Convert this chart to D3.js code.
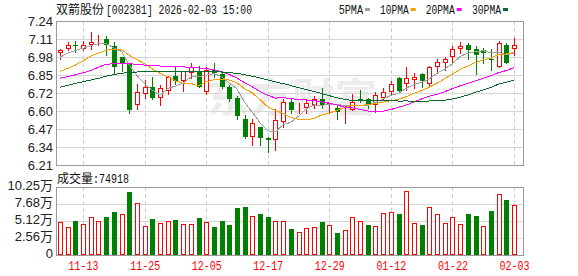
<!DOCTYPE html>
<html>
<head>
<meta charset="utf-8">
<script src="https://cdn.jsdelivr.net/npm/d3@7"></script>
<style>
  body { margin: 0; background: #fff; }
  svg { display: block; }
</style>
</head>
<body>
<div id="chart"></div>
<script>
// trading days shown (60 sessions)
const dates = ["11-10","11-11","11-12","11-13","11-14","11-17","11-18","11-19","11-20","11-21",
  "11-24","11-25","11-26","11-27","11-28","12-01","12-02","12-03","12-04","12-05",
  "12-08","12-09","12-10","12-11","12-12","12-15","12-16","12-17","12-18","12-19",
  "12-22","12-23","12-24","12-25","12-26","12-29","12-30","12-31","01-05","01-06",
  "01-07","01-08","01-09","01-12","01-13","01-14","01-15","01-16","01-19","01-20",
  "01-21","01-22","01-23","01-26","01-27","01-28","01-29","01-30","02-02","02-03"];

const opens = [7.01,7.04,7.07,7.04,7.07,7.09,7.11,7.06,6.98,6.93,
  6.64,6.72,6.77,6.69,6.74,6.85,6.81,6.87,6.88,6.73,
  6.89,6.86,6.77,6.69,6.54,6.41,6.48,6.40,6.39,6.52,
  6.66,6.60,6.62,6.64,6.68,6.64,6.62,6.61,6.60,6.68,
  6.68,6.64,6.69,6.73,6.83,6.79,6.82,6.86,6.79,6.91,
  6.94,6.98,7.04,7.07,7.04,7.03,6.97,6.91,7.07,7.04];
const highs = [7.04,7.09,7.10,7.10,7.16,7.14,7.13,7.09,6.98,6.93,
  6.79,6.82,6.84,6.78,6.85,6.91,6.88,6.94,6.92,6.91,
  6.94,6.88,6.78,6.70,6.57,6.54,6.48,6.41,6.61,6.68,
  6.68,6.65,6.68,6.70,6.76,6.65,6.64,6.63,6.72,6.75,
  6.69,6.73,6.76,6.81,6.84,6.91,6.87,6.87,6.92,6.97,
  6.98,7.06,7.09,7.08,7.06,7.05,7.04,7.10,7.08,7.12];
const lows = [6.97,7.03,7.02,7.03,7.04,7.07,7.00,6.87,6.88,6.58,
  6.61,6.69,6.68,6.64,6.72,6.79,6.74,6.83,6.77,6.72,
  6.84,6.76,6.67,6.54,6.40,6.35,6.35,6.30,6.32,6.48,
  6.58,6.58,6.58,6.62,6.62,6.58,6.54,6.51,6.60,6.66,
  6.62,6.59,6.68,6.72,6.73,6.75,6.76,6.77,6.77,6.87,
  6.89,6.94,7.01,6.97,6.86,6.94,6.89,6.91,6.94,7.00];
const closes = [7.03,7.07,7.06,7.07,7.09,7.10,7.07,6.91,6.94,6.60,
  6.73,6.77,6.69,6.76,6.84,6.81,6.88,6.91,6.77,6.89,
  6.87,6.77,6.68,6.56,6.41,6.51,6.40,6.39,6.53,6.66,
  6.60,6.61,6.65,6.68,6.64,6.65,6.59,6.62,6.66,6.67,
  6.64,6.71,6.73,6.79,6.74,6.83,6.84,6.81,6.91,6.95,
  6.97,7.04,7.06,7.03,7.00,7.01,6.96,7.08,6.94,7.07];
// volume in 万 shares
const volumes = [4.93,4.17,5.12,4.62,5.68,5.08,5.73,6.48,6.13,9.49,
  7.79,4.32,5.43,4.77,5.08,5.27,4.62,4.62,5.58,4.93,
  4.22,5.12,4.52,7.08,7.23,5.83,6.18,5.73,5.08,5.08,
  3.92,3.42,4.02,4.17,4.97,4.47,3.32,3.72,5.68,5.08,
  4.52,4.32,6.28,6.43,6.18,9.60,4.77,4.52,7.19,6.13,
  4.77,5.68,4.62,6.18,5.88,4.32,6.63,9.15,8.29,7.4918];

// moving-average values before enough closes are in view
const ma5Lead = [6.98,7.01,7.03,7.045];
const ma10Lead = [6.88,6.90,6.925,6.955,6.99,7.01,7.03,7.04,7.035];
const ma20Lead = [6.83,6.843,6.855,6.87,6.885,6.91,6.93,6.935,6.937,6.935,
  6.93,6.925,6.92,6.918,6.915,6.915,6.912,6.908,6.904];
const ma30Lead = [6.766,6.78,6.793,6.806,6.818,6.83,6.845,6.857,6.866,6.872,
  6.875,6.877,6.877,6.877,6.877,6.877,6.877,6.877,6.877,6.877,
  6.877,6.875,6.871,6.865,6.856,6.845,6.832,6.818,6.804];

const priceTickLabels = ["7.24","7.11","6.98","6.85","6.72","6.60","6.47","6.34","6.21"];
const volTickLabels = ["10.25万","7.68万","5.12万","2.56万","0"];
const dateTicks = ["11-13","11-25","12-05","12-17","12-29","01-12","01-22","02-03"];
const maNames = ["5PMA","10PMA","20PMA","30PMA"];
const maColors = ["#a0a0a0","#f5a000","#ff00ff","#08692e"];

const W = 578, H = 276;
const left = 56, right = 523;
const pTop = 21, pBot = 165, vTop = 187, vBot = 255;
const RED = "#ff0000", GREEN = "#008000";

const svg = d3.select("#chart").append("svg")
  .attr("width", W).attr("height", H)
  .style("font-family", "'Liberation Sans', Arial, sans-serif");

const x = d3.scaleLinear().domain([0, dates.length - 1]).range([60, 514]);
const y = d3.scaleLinear().domain([6.21, 7.24]).range([pBot, pTop]);
const yv = d3.scaleLinear().domain([0, 10.25]).range([vBot, vTop]);

const px = v => Math.round(v) + 0.5;

// watermark
svg.append("text")
  .attr("x", 292).attr("y", 112)
  .attr("text-anchor", "middle")
  .attr("font-family", "'Noto Sans CJK SC', sans-serif")
  .attr("font-size", 40).attr("font-weight", "bold")
  .attr("fill", "#ececec")
  .attr("textLength", 170).attr("lengthAdjust", "spacingAndGlyphs")
  .text("东方财富");

// grids
function panelGrid(top, bot, yVals) {
  const g = svg.append("g");
  g.selectAll("line.h").data(yVals).join("line")
    .attr("x1", left).attr("x2", right)
    .attr("y1", d => px(d)).attr("y2", d => px(d))
    .attr("stroke", "#d6d6d6");
  g.selectAll("line.v").data(dateTicks).join("line")
    .attr("x1", d => px(x(dates.indexOf(d)))).attr("x2", d => px(x(dates.indexOf(d))))
    .attr("y1", top).attr("y2", bot)
    .attr("stroke", "#cfcfcf").attr("stroke-dasharray", "4,3");
  g.append("rect")
    .attr("x", left + 0.5).attr("y", px(top))
    .attr("width", right - left).attr("height", Math.round(bot) - Math.round(top))
    .attr("fill", "none").attr("stroke", "#9a9a9a");
}
const priceStep = (7.24 - 6.21) / (priceTickLabels.length - 1);
panelGrid(pTop, pBot, priceTickLabels.map((d, k) => y(7.24 - k * priceStep)));
panelGrid(vTop, vBot, volTickLabels.map((d, k) => yv(10.25 - k * 10.25 / 4)));

// price axis labels
svg.append("g").selectAll("text").data(priceTickLabels).join("text")
  .attr("x", 53).attr("y", (d, k) => y(7.24 - k * priceStep))
  .attr("dy", "0.36em").attr("text-anchor", "end")
  .attr("font-size", 13).attr("fill", "#222")
  .text(d => d);

// volume axis labels
svg.append("g").selectAll("text").data(volTickLabels).join("text")
  .attr("x", 53).attr("y", (d, k) => yv(10.25 - k * 10.25 / 4) - 2)
  .attr("dy", "0.36em").attr("text-anchor", "end")
  .attr("font-size", 13).attr("fill", "#222")
  .attr("font-family", "'Liberation Sans', 'Noto Sans CJK SC', sans-serif")
  .text(d => d);

// date labels
svg.append("g").selectAll("text").data(dateTicks).join("text")
  .attr("x", d => x(dates.indexOf(d)) + 0.5).attr("y", 270)
  .attr("text-anchor", "middle")
  .attr("font-family", "'Liberation Mono', monospace")
  .attr("font-size", 12).attr("fill", RED)
  .attr("textLength", 30).attr("lengthAdjust", "spacingAndGlyphs")
  .text(d => d);

// moving averages
function movingAvg(n, lead) {
  return closes.map((c, i) => i < n - 1 ? lead[i] : d3.mean(closes.slice(i - n + 1, i + 1)));
}
const maSeries = [movingAvg(5, ma5Lead), movingAvg(10, ma10Lead), movingAvg(20, ma20Lead), movingAvg(30, ma30Lead)];

// candles
const candles = svg.append("g");
dates.forEach((d, i) => {
  const up = closes[i] >= opens[i];
  const cx = Math.round(x(i));
  const col = up ? RED : GREEN;
  candles.append("line")
    .attr("x1", cx + 0.5).attr("x2", cx + 0.5)
    .attr("y1", Math.round(y(highs[i]))).attr("y2", Math.round(y(lows[i])) + 1)
    .attr("stroke", col);
  const top = Math.round(y(Math.max(opens[i], closes[i])));
  const bot = Math.max(Math.round(y(Math.min(opens[i], closes[i]))), top + 1);
  if (up) {
    candles.append("rect")
      .attr("x", cx - 1.5).attr("y", top + 0.5)
      .attr("width", 4).attr("height", Math.max(bot - top - 1, 0))
      .attr("fill", "#fff").attr("stroke", col);
  } else {
    candles.append("rect")
      .attr("x", cx - 2).attr("y", top)
      .attr("width", 5).attr("height", bot - top)
      .attr("fill", col);
  }
});

// MA lines on top
const maG = svg.append("g");
maSeries.forEach((s, k) => {
  maG.append("path")
    .datum(s)
    .attr("d", d3.line().x((d, i) => x(i)).y(d => y(d)))
    .attr("fill", "none")
    .attr("stroke", maColors[k])
    .attr("stroke-width", 1)
    .attr("shape-rendering", "crispEdges");
});

// volume bars (colour by change vs previous close)
const volG = svg.append("g");
volumes.forEach((v, i) => {
  const up = i === 0 ? closes[i] >= opens[i] : closes[i] >= closes[i - 1];
  const cx = Math.round(x(i));
  const top = Math.round(yv(v));
  if (up) {
    volG.append("rect")
      .attr("x", cx - 1.5).attr("y", top + 0.5)
      .attr("width", 4).attr("height", vBot - top - 1)
      .attr("fill", "#fff").attr("stroke", RED);
  } else {
    volG.append("rect")
      .attr("x", cx - 2).attr("y", top)
      .attr("width", 5).attr("height", vBot - top)
      .attr("fill", GREEN);
  }
});

// title
svg.append("text")
  .attr("x", 56).attr("y", 14)
  .attr("font-family", "'Noto Sans CJK SC', sans-serif")
  .attr("font-size", 12).attr("fill", "#111")
  .text("双箭股份");
svg.append("text")
  .attr("x", 106).attr("y", 14)
  .attr("font-family", "'Liberation Mono', monospace")
  .attr("font-size", 12).attr("fill", "#111")
  .attr("textLength", 146).attr("lengthAdjust", "spacingAndGlyphs")
  .text("[002381] 2026-02-03 15:00");

// legend
const legendX = [338.7, 380, 425.7, 472];
const legendW = [24.3, 28.7, 29, 29];
const legend = svg.append("g");
maNames.forEach((name, k) => {
  legend.append("text")
    .attr("x", legendX[k]).attr("y", 13.5)
    .attr("font-family", "'Liberation Mono', monospace")
    .attr("font-size", 12).attr("fill", "#111")
    .attr("textLength", legendW[k]).attr("lengthAdjust", "spacingAndGlyphs")
    .text(name);
  legend.append("rect")
    .attr("x", legendX[k] + legendW[k] + 2).attr("y", 8)
    .attr("width", 5).attr("height", 3)
    .attr("fill", maColors[k]);
});

// volume caption
svg.append("text")
  .attr("x", 57).attr("y", 182.5)
  .attr("font-family", "'Noto Sans CJK SC', sans-serif")
  .attr("font-size", 12).attr("fill", "#111")
  .text("成交量");
svg.append("text")
  .attr("x", 93).attr("y", 182.5)
  .attr("font-family", "'Liberation Mono', monospace")
  .attr("font-size", 12).attr("fill", "#111")
  .attr("textLength", 36).attr("lengthAdjust", "spacingAndGlyphs")
  .text(":" + Math.round(volumes[volumes.length - 1] * 10000));
</script>
</body>
</html>
